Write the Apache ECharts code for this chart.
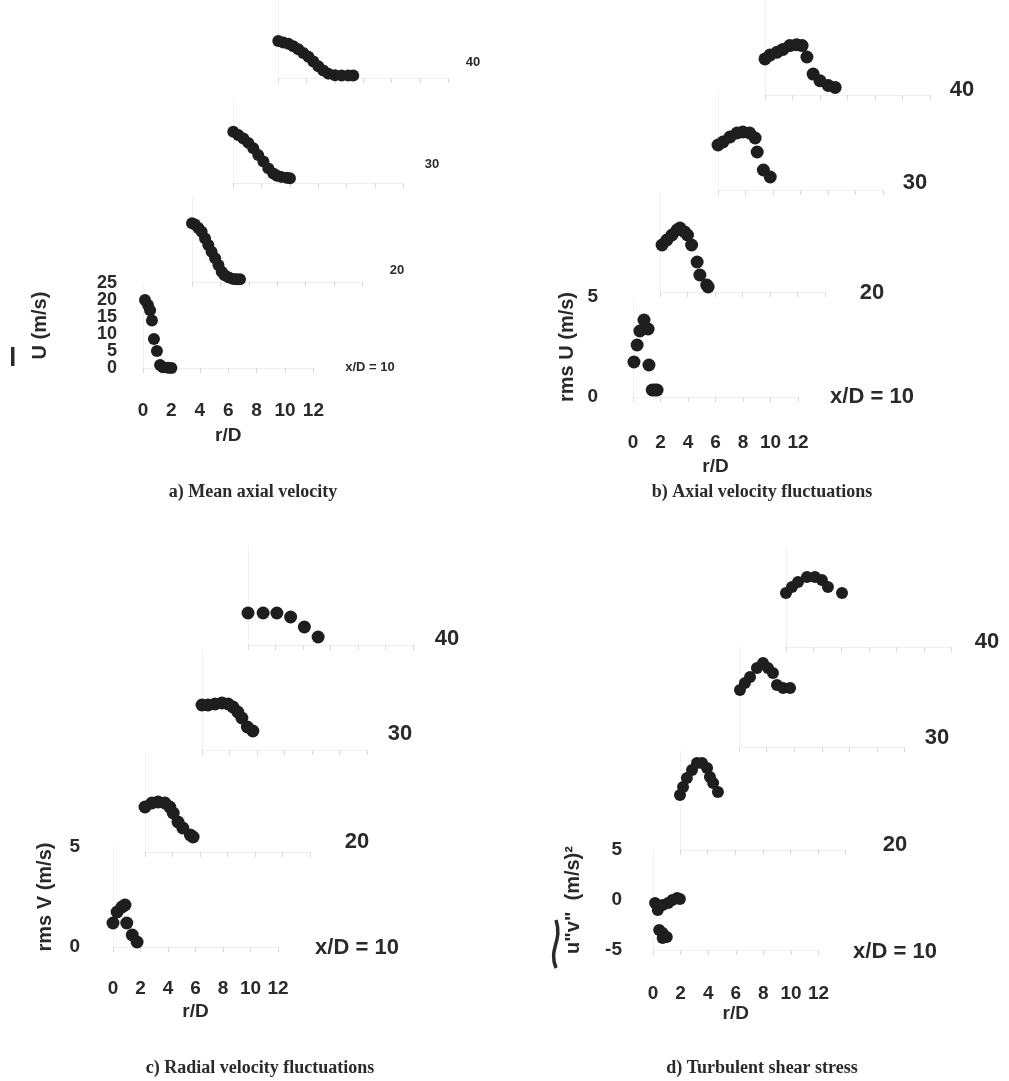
<!DOCTYPE html>
<html><head><meta charset="utf-8">
<script src="https://cdn.jsdelivr.net/npm/echarts@6/dist/echarts.min.js"></script>
<style>html,body{margin:0;padding:0;background:#fff}#c{width:1009px;height:1081px}</style>
</head><body><div id="c"></div>
<script>
// ---------- DATA ----------
const stations = [10, 20, 30, 40];
const rTicks = [0, 2, 4, 6, 8, 10, 12];

// a) Mean axial velocity U (m/s) vs r/D
const a10r = [0.14, 0.35, 0.5, 0.63, 0.77, 0.98, 1.2, 1.4, 1.76, 2.0];
const a10v = [20, 18.5, 17, 14, 8.5, 5, 0.9, 0.2, 0.1, 0];
const a20r = [0, 0.2, 0.45, 0.68, 0.92, 1.15, 1.38, 1.63, 1.86, 2.09, 2.3, 2.6, 2.91, 3.15, 3.38];
const a20v = [17.3, 16.9, 15.9, 14.8, 12.8, 10.9, 8.9, 7.0, 5.0, 3.0, 2.0, 1.3, 0.9, 0.8, 0.8];
const a30r = [0.02, 0.37, 0.73, 1.08, 1.43, 1.78, 2.14, 2.49, 2.84, 3.1, 3.4, 3.78, 4.01];
const a30v = [15.1, 14.1, 13.1, 11.8, 10.2, 8.2, 6.3, 4.3, 2.8, 2.1, 1.8, 1.55, 1.4];
const a40r = [0.02, 0.37, 0.73, 1.08, 1.43, 1.78, 2.14, 2.49, 2.84, 3.19, 3.54, 4.01, 4.48, 4.95, 5.3];
const a40v = [11.85, 11.4, 11.0, 10.2, 9.2, 8.0, 6.8, 5.3, 3.8, 2.4, 1.4, 0.9, 0.8, 0.8, 0.8];
const aTicksEven = [0, 10, 20];
const aTicksOdd = [5, 15, 25];

// b) rms U (m/s)
const b10r = [0.07, 0.3, 0.5, 0.8, 1.1, 1.16, 1.4, 1.6, 1.75];
const b10v = [1.75, 2.6, 3.3, 3.85, 3.4, 1.6, 0.35, 0.35, 0.35];
const b20r = [0.15, 0.5, 0.87, 1.24, 1.45, 1.8, 2.0, 2.3, 2.7, 2.9, 3.4, 3.5];
const b20v = [2.35, 2.6, 2.85, 3.1, 3.2, 3.0, 2.85, 2.35, 1.5, 0.85, 0.35, 0.25];
const b30r = [0, 0.36, 0.87, 1.38, 1.8, 2.3, 2.7, 2.85, 3.3, 3.8];
const b30v = [2.25, 2.4, 2.65, 2.85, 2.9, 2.85, 2.6, 1.9, 1.0, 0.65];
const b40r = [0, 0.36, 0.87, 1.3, 1.8, 2.3, 2.7, 3.05, 3.5, 4.0, 4.6, 5.1];
const b40v = [1.9, 2.1, 2.25, 2.4, 2.6, 2.65, 2.6, 2.0, 1.1, 0.75, 0.5, 0.4];

// c) rms V (m/s)
const c10r = [0, 0.3, 0.65, 0.87, 1.0, 1.4, 1.75];
const c10v = [1.2, 1.75, 2.0, 2.1, 1.2, 0.6, 0.25];
const c20r = [0, 0.5, 0.95, 1.45, 1.8, 2.05, 2.4, 2.75, 3.3, 3.5];
const c20v = [2.25, 2.45, 2.5, 2.45, 2.25, 1.95, 1.5, 1.2, 0.85, 0.75];
const c30r = [0, 0.44, 0.95, 1.45, 1.9, 2.25, 2.6, 2.9, 3.3, 3.7];
const c30v = [2.25, 2.25, 2.3, 2.35, 2.3, 2.15, 1.9, 1.6, 1.15, 0.95];
const c40r = [0, 1.1, 2.1, 3.1, 4.1, 5.1];
const c40v = [1.6, 1.6, 1.6, 1.4, 0.9, 0.4];

// d) u"v" (m/s)^2
const d10r = [0.15, 0.35, 0.7, 1.1, 1.4, 1.75, 1.95, 0.45, 0.7, 1.0, 0.7];
const d10v = [-0.3, -1.0, -0.5, -0.3, 0.0, 0.2, 0.1, -3.0, -3.3, -3.7, -3.8];
const d20r = [0, 0.22, 0.5, 0.87, 1.23, 1.6, 1.96, 2.17, 2.4, 2.75];
const d20v = [0.5, 1.3, 2.2, 3.0, 3.7, 3.7, 3.2, 2.3, 1.7, 0.8];
const d30r = [0.07, 0.43, 0.8, 1.3, 1.74, 2.1, 2.46, 2.75, 3.2, 3.7];
const d30v = [0.7, 1.4, 2.0, 2.9, 3.4, 2.9, 2.4, 1.2, 0.9, 0.9];
const d40r = [0, 0.43, 0.87, 1.52, 2.1, 2.6, 3.04, 4.06];
const d40v = [0.4, 1.0, 1.5, 2.0, 2.0, 1.7, 1.0, 0.4];

// ---------- LAYOUT ----------
const panels = [
  { r: [a10r, a20r, a30r, a40r], v: [a10v, a20v, a30v, a40v],
    origins: [[143, 368], [192, 282], [233, 183], [278, 78]], sx: 14.2, ymin: 0, ymax: 25, yint: 5, H: 85,
    yName: 'U (m/s)', yNameGap: 93, yLabelMargin: 26, yLabelSize: 18, xLabelSize: 19, xLabelMargin: 33, xNameGap: 58,
    sym: 12, stLabelSize: 13, stLabels: [[370, 367], [397, 270], [432, 164], [473, 62]], split: true },
  { r: [b10r, b20r, b30r, b40r], v: [b10v, b20v, b30v, b40v],
    origins: [[633, 397], [660, 292], [718, 190], [765, 95]], sx: 13.75, ymin: 0, ymax: 5, yint: 5, H: 100,
    yName: 'rms U (m/s)', yNameGap: 56, yLabelMargin: 35, yLabelSize: 19, xLabelSize: 19, xLabelMargin: 36, xNameGap: 60,
    sym: 13, stLabelSize: 22, stLabels: [[872, 397], [872, 293], [915, 183], [962, 90]] },
  { r: [c10r, c20r, c30r, c40r], v: [c10v, c20v, c30v, c40v],
    origins: [[113, 947], [145, 852], [202, 750], [248, 645]], sx: 13.75, ymin: 0, ymax: 5, yint: 5, H: 100,
    yName: 'rms V (m/s)', yNameGap: 58, yLabelMargin: 33, yLabelSize: 19, xLabelSize: 19, xLabelMargin: 32, xNameGap: 55,
    sym: 13, stLabelSize: 22, stLabels: [[357, 948], [357, 842], [400, 734], [447, 639]] },
  { r: [d10r, d20r, d30r, d40r], v: [d10v, d20v, d30v, d40v],
    origins: [[653, 900], [680, 800], [739, 697], [786, 597]], sx: 13.8, ymin: -5, ymax: 5, yint: 5, H: 100,
    yName: 'u"v"  (m/s)²', yNameGap: 70, yLabelMargin: 31, yLabelSize: 19, xLabelSize: 19, xLabelMargin: 34, xNameGap: 52,
    sym: 12, stLabelSize: 22, stLabels: [[895, 952], [895, 845], [937, 738], [987, 642]] }
];

const captions = [
  ['a) Mean axial velocity', 248, 478],
  ['b) Axial velocity fluctuations', 757, 478],
  ['c) Radial velocity fluctuations', 255, 1054],
  ['d) Turbulent shear stress', 757, 1054]
];

const FONT = '"Liberation Sans", Arial, sans-serif';
const grids = [], xAxes = [], yAxes = [], series = [], graphics = [];
let k = 0;
panels.forEach(p => {
  const sy = p.H / (p.ymax - p.ymin);
  stations.forEach((st, i) => {
    const [ox, oy] = p.origins[i];
    const first = i === 0;
    grids.push({ left: ox, top: oy - p.ymax * sy, width: 12 * p.sx, height: p.H, containLabel: false });
    xAxes.push({
      type: 'value', gridIndex: k, min: 0, max: 12, interval: 2,
      axisLine: { show: true, onZero: false, lineStyle: { color: '#efefef', width: 1 } },
      axisTick: { show: true, length: 5, lineStyle: { color: '#dadada' } },
      splitLine: { show: false },
      axisLabel: { show: first, margin: p.xLabelMargin, fontSize: p.xLabelSize, fontFamily: FONT, color: '#2a2a2a',
        fontWeight: 'bold', showMinLabel: true, showMaxLabel: true, hideOverlap: false,
        formatter: v => rTicks.includes(v) ? String(v) : '' },
      name: first ? 'r/D' : '', nameLocation: 'middle', nameGap: p.xNameGap,
      nameTextStyle: { fontSize: 19, fontFamily: FONT, color: '#2a2a2a', fontWeight: 'bold' }
    });
    const yLabelBase = { show: first, margin: p.yLabelMargin, fontSize: p.yLabelSize, fontFamily: FONT, color: '#2a2a2a',
      fontWeight: 'bold', showMinLabel: true, showMaxLabel: true, hideOverlap: false };
    const yIdx = yAxes.length;
    yAxes.push({
      type: 'value', gridIndex: k, min: p.ymin, max: p.ymax, interval: p.yint,
      axisLine: { show: true, lineStyle: { color: '#f2f2f2' } },
      axisTick: { show: false }, splitLine: { show: false },
      axisLabel: Object.assign({}, yLabelBase, p.split && first ? { formatter: v => aTicksEven.includes(v) ? String(v) : '' } : {}),
      name: first ? p.yName : '', nameLocation: 'middle', nameGap: p.yNameGap, nameRotate: 90,
      nameTextStyle: { fontSize: 20, fontFamily: FONT, color: '#2a2a2a', fontWeight: 'bold' }
    });
    if (p.split && first) {
      // second label axis on the same grid carries the alternate tick labels (avoids overlap-hiding)
      yAxes.push({
        type: 'value', gridIndex: k, position: 'left', min: p.ymin, max: p.ymax, interval: p.yint,
        axisLine: { show: false }, axisTick: { show: false }, splitLine: { show: false },
        axisLabel: Object.assign({}, yLabelBase, { formatter: v => aTicksOdd.includes(v) ? String(v) : '' })
      });
    }
    series.push({
      type: 'scatter', xAxisIndex: k, yAxisIndex: yIdx, clip: false, symbol: 'circle', symbolSize: p.sym,
      itemStyle: { color: '#1e1e1e', opacity: 1 },
      data: p.r[i].map((r, j) => [r, p.v[i][j]])
    });
    const [lx, ly] = p.stLabels[i];
    graphics.push({ type: 'text', x: lx, y: ly, style: {
      text: first ? 'x/D = ' + st : String(st), x: 0, y: 0, textAlign: 'center', textVerticalAlign: 'middle',
      font: 'bold ' + p.stLabelSize + 'px ' + FONT, fill: '#2a2a2a' } });
    k++;
  });
});

// overbar of U (panel a) and tilde over u"v" (panel d)
graphics.push({ type: 'rect', shape: { x: 11, y: 347, width: 3.5, height: 19 }, style: { fill: '#2a2a2a' } });
graphics.push({ type: 'bezierCurve', shape: { x1: 556, y1: 968, x2: 556, y2: 920, cpx1: 548, cpy1: 948, cpx2: 563, cpy2: 942 },
  style: { stroke: '#2a2a2a', lineWidth: 3.5, fill: null } });

const chart = echarts.init(document.getElementById('c'), null, { renderer: 'canvas' });
chart.setOption({
  backgroundColor: '#ffffff',
  animation: false,
  title: captions.map(([t, x, y]) => ({ text: t, left: x, top: y, textAlign: 'center',
    textStyle: { fontFamily: '"Liberation Serif", "Times New Roman", serif', fontWeight: 'bold', fontSize: 18, color: '#2a2a2a' } })),
  grid: grids, xAxis: xAxes, yAxis: yAxes, series: series, graphic: graphics
});
</script></body></html>
